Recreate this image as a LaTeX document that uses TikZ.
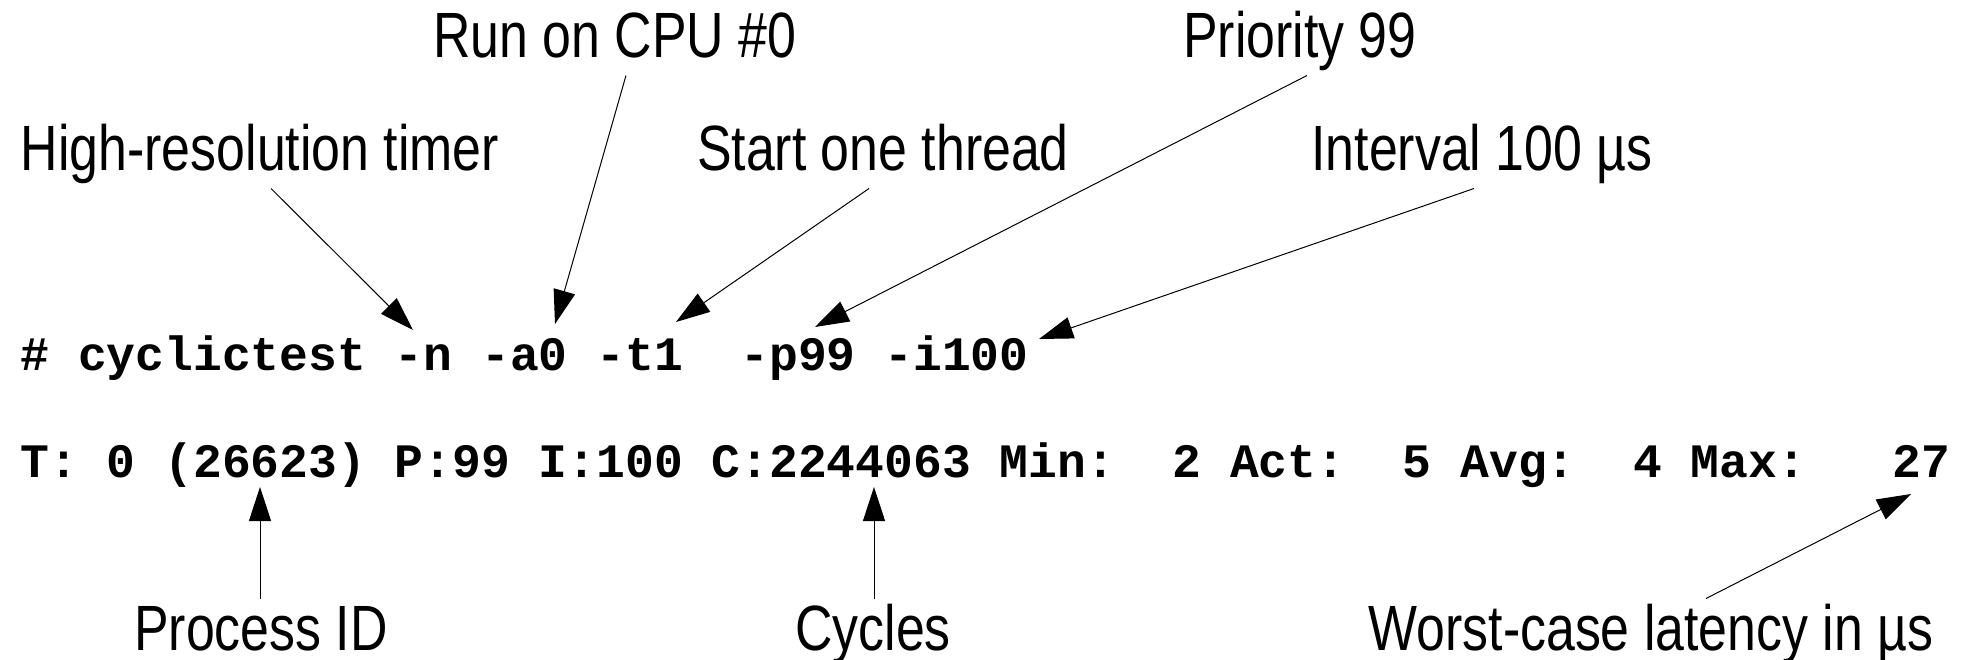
\documentclass[tikz,border=0pt]{standalone}
\usepackage{fontspec}
\setmainfont{Liberation Sans}[FakeStretch=0.81]
\setmonofont{Liberation Mono}
\usetikzlibrary{arrows.meta}
\begin{document}
\begin{tikzpicture}[x=1pt, y=-1pt, >={Triangle[length=34pt,width=22pt]}, line width=1pt,
	lbl/.style={inner sep=0pt, anchor=base, text height=51pt, text depth=17pt, font=\fontsize{64}{70}\selectfont},
	cmd/.style={inner sep=0pt, anchor=base west, font=\ttfamily\bfseries\fontsize{48}{52}\selectfont}]
	\useasboundingbox (0,0) rectangle (1972,660);
	\node[cmd] (cmd) at (20,370) {\#~cyclictest -n -a0 -t1~~-p99 -i100};
	\node[cmd] (res) at (20,477) {T: 0 (26623) P:99 I:100 C:2244063 Min:~~2 Act:~~5 Avg:~~4 Max:~~~27};
	\node[lbl] (cpu) at (615,58) {Run on CPU \#0};
	\node[lbl] (prio) at (1300,58) {Priority 99};
	\node[lbl] (hrt) at (260,171) {High-resolution timer};
	\node[lbl] (thr) at (883,171) {Start one thread};
	\node[lbl] (ivl) at (1482,171) {Interval 100 µs};
	\node[lbl] (pid) at (261,650) {Process ID};
	\node[lbl] (cyc) at (873,650) {Cycles};
	\node[lbl] (wcl) at (1651,650) {Worst-case latency in µs};
	\coordinate (n) at (413,330);
	\coordinate (a) at (555,324);
	\coordinate (t) at (676,322);
	\coordinate (p) at (815,327);
	\coordinate (i) at (1039,339);
	\coordinate (pidtip) at (260,487);
	\coordinate (cyctip) at (874,487);
	\coordinate (maxtip) at (1911,494);
	\draw[->] ([xshift=11pt]hrt.south) -- (n);
	\draw[->] ([xshift=11pt]cpu.south) -- (a);
	\draw[->] ([xshift=-14pt]thr.south) -- (t);
	\draw[->] ([xshift=7pt]prio.south) -- (p);
	\draw[->] ([xshift=-8pt]ivl.south) -- (i);
	\draw[->] (pid.north -| pidtip) -- (pidtip);
	\draw[->] (cyc.north -| cyctip) -- (cyctip);
	\draw[->] ([xshift=55pt]wcl.north) -- (maxtip);
\end{tikzpicture}
\end{document}
